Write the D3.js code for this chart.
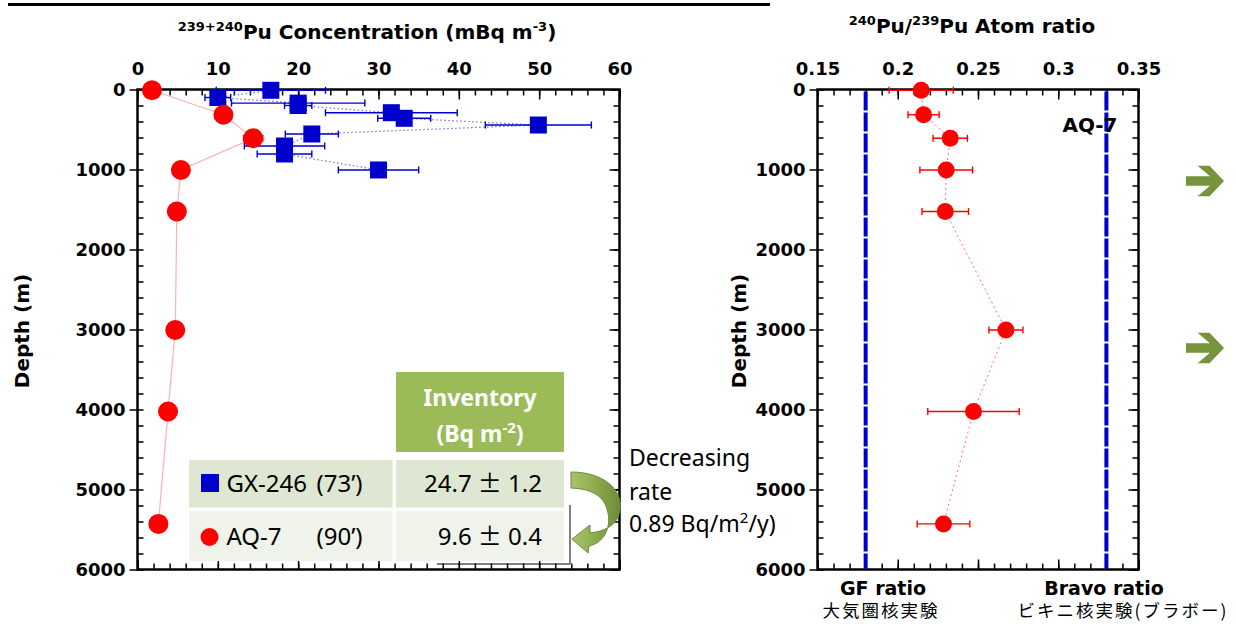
<!DOCTYPE html>
<html>
<head>
<meta charset="utf-8">
<script src="https://cdn.jsdelivr.net/npm/d3@7"></script>
<style>
  body { margin: 0; background: #fff; }
  svg { display: block; }
  .bold { font-family: "DejaVu Sans", sans-serif; font-weight: bold; fill: #000; }
  .cal { font-family: "Noto Sans", sans-serif; fill: #000; }
  .jp { font-family: "Noto Sans CJK JP", sans-serif; fill: #000; }
</style>
</head>
<body>
<script>
// GX-246 (1973) concentration profile
var gxDepth = [10, 100, 170, 200, 290, 360, 444, 556, 706, 806, 1006],
  gxConc = [16.6, 10.0, 20.0, 20.0, 31.6, 33.2, 49.9, 21.7, 18.3, 18.3, 30.0],
  gxErr = [6.8, 1.6, 8.3, 1.7, 8.2, 3.3, 6.6, 3.3, 5.0, 3.4, 5.0];

// AQ-7 (1990) concentration and atom ratio
var aqDepth = [10, 315, 610, 1006, 1525, 3006, 4025, 5430],
  aqConc = [1.8, 10.7, 14.4, 5.4, 4.9, 4.7, 3.8, 2.6],
  aqConcErr = [0.3, 0.5, 1.2, 0.3, 0.3, 0.3, 0.3, 0.3],
  aqRatio = [0.2146, 0.2161, 0.2327, 0.2302, 0.2296, 0.2674, 0.2472, 0.2285],
  aqRatioErr = [0.020, 0.0097, 0.0107, 0.0164, 0.0145, 0.0106, 0.0285, 0.0164];

// reference ratios
var refNames = ['GF ratio', 'Bravo ratio'],
  refSub = ['大気圏核実験', 'ビキニ核実験(ブラボー)'],
  refRatio = [0.18, 0.33];

var concTicks = [0, 10, 20, 30, 40, 50, 60],
  concMinor = d3.range(0, 61, 2),
  ratioTicks = [0.15, 0.2, 0.25, 0.3, 0.35],
  ratioMinor = d3.range(15, 36).map(function(v) { return v / 100; }),
  depthTicks = [0, 1000, 2000, 3000, 4000, 5000, 6000],
  depthMinor = d3.range(0, 6001, 200);

// inventory table
var invSites = ['GX-246', 'AQ-7'],
  invYears = ['(73’)', '(90’)'],
  invValues = [['24.7', '1.2'], ['9.6', '0.4']];

var blue = '#0000cc', red = '#ff0000', green = '#9bbb59', darkGreen = '#77933c';

var svg = d3.select('body').append('svg').attr('width', 1236).attr('height', 624);

var xConc = d3.scaleLinear().domain([0, 60]).range([137.5, 619.5]),
  xRatio = d3.scaleLinear().domain([0.15, 0.35]).range([817.5, 1138.5]),
  yDepth = d3.scaleLinear().domain([0, 6000]).range([89.5, 569.5]);

var styleAxis = function(sel) {
  sel.select('.domain').remove();
  sel.selectAll('line').attr('stroke', '#000').attr('stroke-width', 1.5);
  sel.attr('font-family', '"DejaVu Sans", sans-serif').attr('font-size', 18).attr('font-weight', 'bold');
  sel.selectAll('text').attr('fill', '#000');
};

var drawFrame = function(x, y, xMajor, xMinor, fmt) {
  var left = x.range()[0], right = x.range()[1], top = y.range()[0], bottom = y.range()[1],
    g = svg.append('g');

  g.append('g').attr('transform', 'translate(0,' + top + ')')
    .call(d3.axisTop(x).tickValues(xMajor).tickSize(-10).tickPadding(15).tickFormat(fmt)).call(styleAxis);
  g.append('g').attr('transform', 'translate(0,' + top + ')')
    .call(d3.axisTop(x).tickValues(xMinor).tickSize(-6).tickFormat('')).call(styleAxis);
  g.append('g').attr('transform', 'translate(0,' + bottom + ')')
    .call(d3.axisBottom(x).tickValues(xMajor).tickSize(-10).tickFormat('')).call(styleAxis);
  g.append('g').attr('transform', 'translate(0,' + bottom + ')')
    .call(d3.axisBottom(x).tickValues(xMinor).tickSize(-6).tickFormat('')).call(styleAxis);

  g.append('g').attr('transform', 'translate(' + left + ',0)')
    .call(d3.axisLeft(y).tickValues(depthTicks).tickSize(8).tickPadding(4).tickFormat(d3.format('d'))).call(styleAxis);
  g.append('g').attr('transform', 'translate(' + left + ',0)')
    .call(d3.axisLeft(y).tickValues(depthMinor).tickSize(-6).tickFormat('')).call(styleAxis);
  g.append('g').attr('transform', 'translate(' + right + ',0)')
    .call(d3.axisRight(y).tickValues(depthTicks).tickSize(-10).tickFormat('')).call(styleAxis);
  g.append('g').attr('transform', 'translate(' + right + ',0)')
    .call(d3.axisRight(y).tickValues(depthMinor).tickSize(-6).tickFormat('')).call(styleAxis);

  g.append('rect').attr('x', left).attr('y', top).attr('width', right - left).attr('height', bottom - top)
    .attr('fill', 'none').attr('stroke', '#000').attr('stroke-width', 2.5);
  return g;
};

var errorBars = function(g, xs, ys, errs, x, color) {
  xs.forEach(function(v, i) {
    var y0 = yDepth(ys[i]), x1 = x(v - errs[i]), x2 = x(v + errs[i]);
    g.append('line').attr('x1', x1).attr('x2', x2).attr('y1', y0).attr('y2', y0);
    g.append('line').attr('x1', x1).attr('x2', x1).attr('y1', y0 - 3.5).attr('y2', y0 + 3.5);
    g.append('line').attr('x1', x2).attr('x2', x2).attr('y1', y0 - 3.5).attr('y2', y0 + 3.5);
  });
  g.attr('stroke', color).attr('stroke-width', 1.4);
};

// top title underline (slide title is cut off)
svg.append('line').attr('x1', 8).attr('x2', 770).attr('y1', 4.5).attr('y2', 4.5)
  .attr('stroke', '#000').attr('stroke-width', 3);

// ---------- left chart: concentration ----------
drawFrame(xConc, yDepth, concTicks, concMinor, d3.format('d'));

var leftTitle = svg.append('text').attr('class', 'bold').attr('x', 367).attr('y', 39)
  .attr('text-anchor', 'middle').attr('font-size', 20);
leftTitle.append('tspan').attr('font-size', 13).attr('dy', -8).text('239+240');
leftTitle.append('tspan').attr('dy', 8).text('Pu Concentration (mBq m');
leftTitle.append('tspan').attr('font-size', 13).attr('dy', -8).text('-3');
leftTitle.append('tspan').attr('dy', 8).text(')');

svg.append('text').attr('class', 'bold').attr('font-size', 20).attr('text-anchor', 'middle')
  .attr('transform', 'translate(29,331) rotate(-90)').text('Depth (m)');

var gxLine = d3.line().x(function(i) { return xConc(gxConc[i]); }).y(function(i) { return yDepth(gxDepth[i]); }),
  aqLine = d3.line().x(function(i) { return xConc(aqConc[i]); }).y(function(i) { return yDepth(aqDepth[i]); });

svg.append('path').attr('d', gxLine(d3.range(gxDepth.length))).attr('fill', 'none')
  .attr('stroke', '#7070e0').attr('stroke-width', 1.2).attr('stroke-dasharray', '1.5,2.5');
svg.append('path').attr('d', aqLine(d3.range(aqDepth.length))).attr('fill', 'none')
  .attr('stroke', '#ffb0b0').attr('stroke-width', 1.2);

errorBars(svg.append('g'), gxConc, gxDepth, gxErr, xConc, blue);
svg.append('g').selectAll('rect').data(gxConc).join('rect')
  .attr('x', function(d) { return xConc(d) - 8.5; })
  .attr('y', function(d, i) { return yDepth(gxDepth[i]) - 8.5; })
  .attr('width', 17).attr('height', 17).attr('fill', blue);

errorBars(svg.append('g'), aqConc, aqDepth, aqConcErr, xConc, red);
svg.append('g').selectAll('circle').data(aqConc).join('circle')
  .attr('cx', function(d) { return xConc(d); })
  .attr('cy', function(d, i) { return yDepth(aqDepth[i]); })
  .attr('r', 10).attr('fill', red);

// ---------- inventory table ----------
var tbl = svg.append('g');
tbl.append('rect').attr('x', 396).attr('y', 372).attr('width', 168).attr('height', 80).attr('fill', green);
tbl.append('text').attr('class', 'cal').attr('x', 480).attr('y', 406).attr('text-anchor', 'middle')
  .attr('font-size', 23).attr('font-weight', 'bold').style('fill', '#fff').text('Inventory');
var hdr = tbl.append('text').attr('class', 'cal').attr('x', 480).attr('y', 442).attr('text-anchor', 'middle')
  .attr('font-size', 23).attr('font-weight', 'bold').style('fill', '#fff');
hdr.append('tspan').text('(Bq m');
hdr.append('tspan').attr('font-size', 15).attr('dy', -9).text('-2');
hdr.append('tspan').attr('dy', 9).text(')');

var rowTop = [460, 511], rowH = [47.5, 50], rowFill = ['#dee7d1', '#eff3ea'];
invSites.forEach(function(site, i) {
  var base = rowTop[i] + (i === 0 ? 32 : 34), val;
  tbl.append('rect').attr('x', 189).attr('y', rowTop[i]).attr('width', 203.5).attr('height', rowH[i]).attr('fill', rowFill[i]);
  tbl.append('rect').attr('x', 396).attr('y', rowTop[i]).attr('width', 168).attr('height', rowH[i]).attr('fill', rowFill[i]);
  if (i === 0) {
    tbl.append('rect').attr('x', 201).attr('y', rowTop[i] + 14).attr('width', 18).attr('height', 18).attr('fill', blue);
  } else {
    tbl.append('circle').attr('cx', 209.5).attr('cy', rowTop[i] + 26).attr('r', 9).attr('fill', red);
  }
  tbl.append('text').attr('class', 'cal').attr('x', 226.5).attr('y', base).attr('font-size', 24).text(site);
  tbl.append('text').attr('class', 'cal').attr('x', 316.5).attr('y', base).attr('font-size', 24).text(invYears[i]);
  val = tbl.append('text').attr('class', 'cal').attr('x', 542).attr('y', base).attr('text-anchor', 'end')
    .attr('font-size', 24);
  val.append('tspan').text(invValues[i][0] + ' ');
  val.append('tspan').style('font-family', '"Noto Sans CJK JP", sans-serif').text('±');
  val.append('tspan').text(' ' + invValues[i][1]);
});
tbl.append('path').attr('d', 'M570,505V564H437').attr('fill', 'none').attr('stroke', '#000').attr('stroke-width', 1);

// curved arrow
var grad = svg.append('defs').append('linearGradient').attr('id', 'arrowGrad')
  .attr('x1', 0).attr('y1', 0).attr('x2', 1).attr('y2', 0);
grad.append('stop').attr('offset', '0%').attr('stop-color', '#a9c56b');
grad.append('stop').attr('offset', '60%').attr('stop-color', '#86a548');
grad.append('stop').attr('offset', '100%').attr('stop-color', '#6f8b36');
svg.append('path')
  .attr('d', 'M571,472 C603,472 623,489 620,510 C618,524 607,531 590,533 L590,525 L572,539 L588,553 L589,546 ' +
    'C604,543 611,528 608,513 C605,497 594,489 571,488 Z')
  .attr('fill', 'url(#arrowGrad)').attr('stroke', '#71893f').attr('stroke-width', 1);

var note = svg.append('text').attr('class', 'cal').attr('x', 629).attr('font-size', 23);
note.append('tspan').attr('x', 629).attr('y', 466).text('Decreasing');
note.append('tspan').attr('x', 629).attr('y', 500).text('rate');
note.append('tspan').attr('x', 629).attr('y', 532).text('0.89 Bq/m');
note.append('tspan').attr('font-size', 15).attr('dy', -9).text('2');
note.append('tspan').attr('dy', 9).text('/y)');

// ---------- right chart: atom ratio ----------
drawFrame(xRatio, yDepth, ratioTicks, ratioMinor, function(d) { return String(+d.toFixed(2)); });

var rightTitle = svg.append('text').attr('class', 'bold').attr('x', 972).attr('y', 33)
  .attr('text-anchor', 'middle').attr('font-size', 20);
rightTitle.append('tspan').attr('font-size', 13).attr('dy', -8).text('240');
rightTitle.append('tspan').attr('dy', 8).text('Pu/');
rightTitle.append('tspan').attr('font-size', 13).attr('dy', -8).text('239');
rightTitle.append('tspan').attr('dy', 8).text('Pu Atom ratio');

svg.append('text').attr('class', 'bold').attr('font-size', 20).attr('text-anchor', 'middle')
  .attr('transform', 'translate(746,331) rotate(-90)').text('Depth (m)');

svg.append('g').selectAll('line').data(refRatio).join('line')
  .attr('x1', function(d) { return xRatio(d); }).attr('x2', function(d) { return xRatio(d); })
  .attr('y1', yDepth(0) + 2).attr('y2', yDepth(6000) - 1)
  .attr('stroke', blue).attr('stroke-width', 4).attr('stroke-dasharray', '19,2');

svg.append('text').attr('class', 'bold').attr('x', 1090).attr('y', 132).attr('text-anchor', 'middle')
  .attr('font-size', 20).text('AQ-7');

var ratioLine = d3.line().x(function(i) { return xRatio(aqRatio[i]); }).y(function(i) { return yDepth(aqDepth[i]); });
svg.append('path').attr('d', ratioLine(d3.range(aqDepth.length))).attr('fill', 'none')
  .attr('stroke', '#ff7070').attr('stroke-width', 1).attr('stroke-dasharray', '2,3');
errorBars(svg.append('g'), aqRatio, aqDepth, aqRatioErr, xRatio, red);
svg.append('g').selectAll('circle').data(aqRatio).join('circle')
  .attr('cx', function(d) { return xRatio(d); })
  .attr('cy', function(d, i) { return yDepth(aqDepth[i]); })
  .attr('r', 8.5).attr('fill', red);

// reference labels under the axis
var refCx = [883, 1104], refSubCx = [881, 1123];
refNames.forEach(function(name, i) {
  svg.append('text').attr('class', 'bold').attr('x', refCx[i]).attr('y', 595).attr('text-anchor', 'middle')
    .attr('font-size', 19).text(name);
  svg.append('text').attr('class', 'jp').attr('x', refSubCx[i]).attr('y', 617).attr('text-anchor', 'middle')
    .attr('font-size', 17.5).attr('letter-spacing', 2).text(refSub[i]);
});

// green side arrows
[181, 348].forEach(function(cy) {
  svg.append('path')
    .attr('d', 'M1186,' + (cy - 4.7) + 'L1210,' + (cy - 4.7) + 'L1197.5,' + (cy - 15.3) + 'L1209.5,' + (cy - 15.3) +
      'L1224,' + cy + 'L1209.5,' + (cy + 15.3) + 'L1197.5,' + (cy + 15.3) + 'L1210,' + (cy + 4.7) + 'L1186,' + (cy + 4.7) + 'Z')
    .attr('fill', darkGreen);
});
</script>
</body>
</html>
